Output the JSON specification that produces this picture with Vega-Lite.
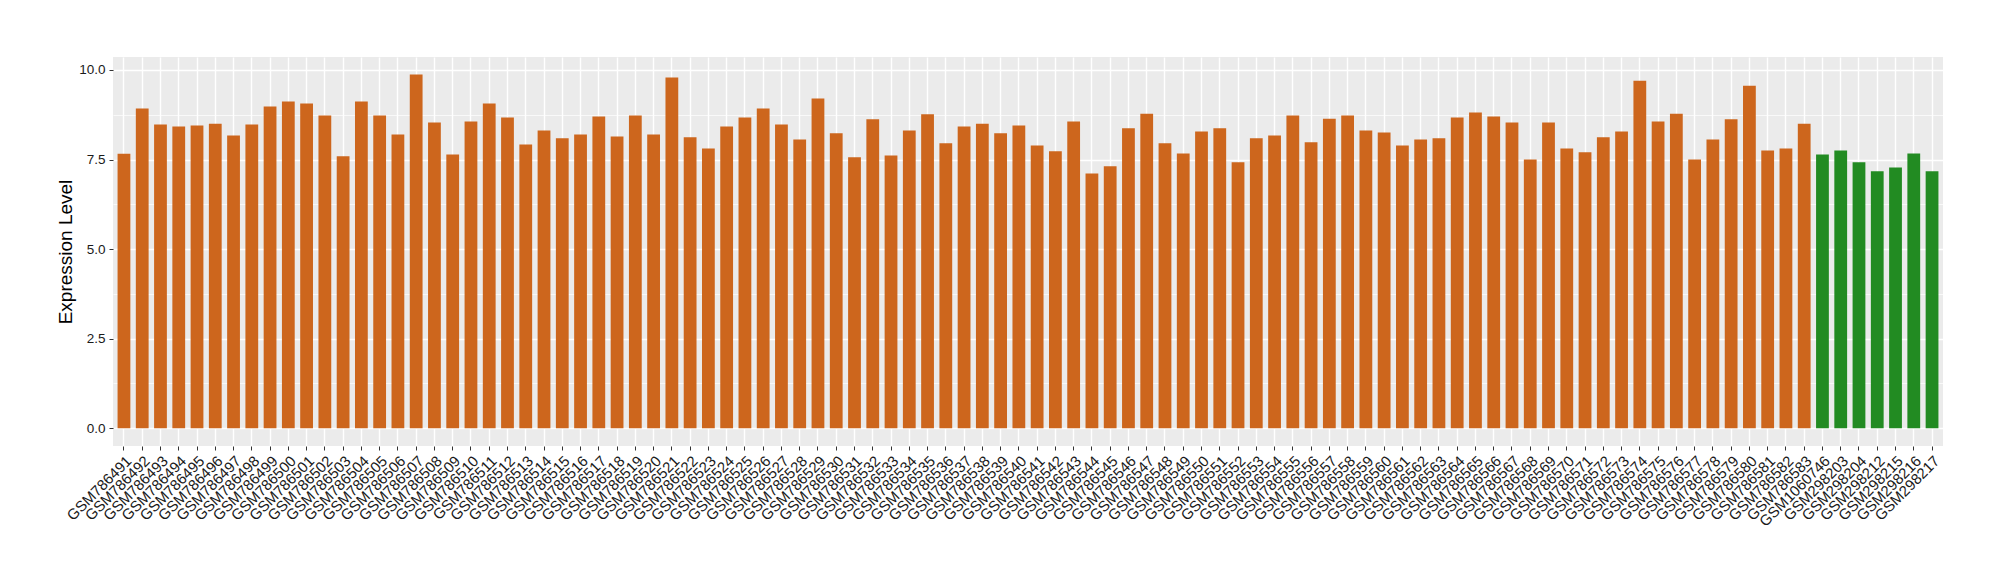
{
  "$schema": "https://vega.github.io/schema/vega-lite/v6.json",
  "width": 1830,
  "height": 389,
  "autosize": {"type": "none"},
  "padding": {"left": 113, "top": 57, "right": 57, "bottom": 134},
  "background": "white",
  "view": {"fill": "#EBEBEB", "stroke": null},
  "config": {
    "font": "Liberation Sans",
    "axis": {"domain": false}
  },
  "data": {
    "values": [
      {"sample": "GSM786491", "value": 7.66, "group": "GSE1"},
      {"sample": "GSM786492", "value": 8.92, "group": "GSE1"},
      {"sample": "GSM786493", "value": 8.48, "group": "GSE1"},
      {"sample": "GSM786494", "value": 8.42, "group": "GSE1"},
      {"sample": "GSM786495", "value": 8.45, "group": "GSE1"},
      {"sample": "GSM786496", "value": 8.50, "group": "GSE1"},
      {"sample": "GSM786497", "value": 8.17, "group": "GSE1"},
      {"sample": "GSM786498", "value": 8.48, "group": "GSE1"},
      {"sample": "GSM786499", "value": 8.98, "group": "GSE1"},
      {"sample": "GSM786500", "value": 9.12, "group": "GSE1"},
      {"sample": "GSM786501", "value": 9.06, "group": "GSE1"},
      {"sample": "GSM786502", "value": 8.73, "group": "GSE1"},
      {"sample": "GSM786503", "value": 7.59, "group": "GSE1"},
      {"sample": "GSM786504", "value": 9.12, "group": "GSE1"},
      {"sample": "GSM786505", "value": 8.73, "group": "GSE1"},
      {"sample": "GSM786506", "value": 8.20, "group": "GSE1"},
      {"sample": "GSM786507", "value": 9.87, "group": "GSE1"},
      {"sample": "GSM786508", "value": 8.53, "group": "GSE1"},
      {"sample": "GSM786509", "value": 7.64, "group": "GSE1"},
      {"sample": "GSM786510", "value": 8.56, "group": "GSE1"},
      {"sample": "GSM786511", "value": 9.06, "group": "GSE1"},
      {"sample": "GSM786512", "value": 8.67, "group": "GSE1"},
      {"sample": "GSM786513", "value": 7.92, "group": "GSE1"},
      {"sample": "GSM786514", "value": 8.31, "group": "GSE1"},
      {"sample": "GSM786515", "value": 8.09, "group": "GSE1"},
      {"sample": "GSM786516", "value": 8.20, "group": "GSE1"},
      {"sample": "GSM786517", "value": 8.70, "group": "GSE1"},
      {"sample": "GSM786518", "value": 8.14, "group": "GSE1"},
      {"sample": "GSM786519", "value": 8.73, "group": "GSE1"},
      {"sample": "GSM786520", "value": 8.20, "group": "GSE1"},
      {"sample": "GSM786521", "value": 9.79, "group": "GSE1"},
      {"sample": "GSM786522", "value": 8.12, "group": "GSE1"},
      {"sample": "GSM786523", "value": 7.81, "group": "GSE1"},
      {"sample": "GSM786524", "value": 8.42, "group": "GSE1"},
      {"sample": "GSM786525", "value": 8.67, "group": "GSE1"},
      {"sample": "GSM786526", "value": 8.92, "group": "GSE1"},
      {"sample": "GSM786527", "value": 8.48, "group": "GSE1"},
      {"sample": "GSM786528", "value": 8.06, "group": "GSE1"},
      {"sample": "GSM786529", "value": 9.20, "group": "GSE1"},
      {"sample": "GSM786530", "value": 8.23, "group": "GSE1"},
      {"sample": "GSM786531", "value": 7.56, "group": "GSE1"},
      {"sample": "GSM786532", "value": 8.62, "group": "GSE1"},
      {"sample": "GSM786533", "value": 7.61, "group": "GSE1"},
      {"sample": "GSM786534", "value": 8.31, "group": "GSE1"},
      {"sample": "GSM786535", "value": 8.76, "group": "GSE1"},
      {"sample": "GSM786536", "value": 7.95, "group": "GSE1"},
      {"sample": "GSM786537", "value": 8.42, "group": "GSE1"},
      {"sample": "GSM786538", "value": 8.50, "group": "GSE1"},
      {"sample": "GSM786539", "value": 8.23, "group": "GSE1"},
      {"sample": "GSM786540", "value": 8.45, "group": "GSE1"},
      {"sample": "GSM786541", "value": 7.89, "group": "GSE1"},
      {"sample": "GSM786542", "value": 7.73, "group": "GSE1"},
      {"sample": "GSM786543", "value": 8.56, "group": "GSE1"},
      {"sample": "GSM786544", "value": 7.11, "group": "GSE1"},
      {"sample": "GSM786545", "value": 7.31, "group": "GSE1"},
      {"sample": "GSM786546", "value": 8.37, "group": "GSE1"},
      {"sample": "GSM786547", "value": 8.78, "group": "GSE1"},
      {"sample": "GSM786548", "value": 7.95, "group": "GSE1"},
      {"sample": "GSM786549", "value": 7.67, "group": "GSE1"},
      {"sample": "GSM786550", "value": 8.28, "group": "GSE1"},
      {"sample": "GSM786551", "value": 8.37, "group": "GSE1"},
      {"sample": "GSM786552", "value": 7.42, "group": "GSE1"},
      {"sample": "GSM786553", "value": 8.09, "group": "GSE1"},
      {"sample": "GSM786554", "value": 8.17, "group": "GSE1"},
      {"sample": "GSM786555", "value": 8.73, "group": "GSE1"},
      {"sample": "GSM786556", "value": 7.98, "group": "GSE1"},
      {"sample": "GSM786557", "value": 8.64, "group": "GSE1"},
      {"sample": "GSM786558", "value": 8.73, "group": "GSE1"},
      {"sample": "GSM786559", "value": 8.31, "group": "GSE1"},
      {"sample": "GSM786560", "value": 8.25, "group": "GSE1"},
      {"sample": "GSM786561", "value": 7.89, "group": "GSE1"},
      {"sample": "GSM786562", "value": 8.06, "group": "GSE1"},
      {"sample": "GSM786563", "value": 8.09, "group": "GSE1"},
      {"sample": "GSM786564", "value": 8.67, "group": "GSE1"},
      {"sample": "GSM786565", "value": 8.81, "group": "GSE1"},
      {"sample": "GSM786566", "value": 8.70, "group": "GSE1"},
      {"sample": "GSM786567", "value": 8.53, "group": "GSE1"},
      {"sample": "GSM786568", "value": 7.50, "group": "GSE1"},
      {"sample": "GSM786569", "value": 8.53, "group": "GSE1"},
      {"sample": "GSM786570", "value": 7.81, "group": "GSE1"},
      {"sample": "GSM786571", "value": 7.70, "group": "GSE1"},
      {"sample": "GSM786572", "value": 8.12, "group": "GSE1"},
      {"sample": "GSM786573", "value": 8.28, "group": "GSE1"},
      {"sample": "GSM786574", "value": 9.70, "group": "GSE1"},
      {"sample": "GSM786575", "value": 8.56, "group": "GSE1"},
      {"sample": "GSM786576", "value": 8.78, "group": "GSE1"},
      {"sample": "GSM786577", "value": 7.50, "group": "GSE1"},
      {"sample": "GSM786578", "value": 8.06, "group": "GSE1"},
      {"sample": "GSM786579", "value": 8.62, "group": "GSE1"},
      {"sample": "GSM786580", "value": 9.56, "group": "GSE1"},
      {"sample": "GSM786581", "value": 7.75, "group": "GSE1"},
      {"sample": "GSM786582", "value": 7.81, "group": "GSE1"},
      {"sample": "GSM786583", "value": 8.50, "group": "GSE1"},
      {"sample": "GSM1060746", "value": 7.64, "group": "GSE2"},
      {"sample": "GSM298203", "value": 7.75, "group": "GSE2"},
      {"sample": "GSM298204", "value": 7.42, "group": "GSE2"},
      {"sample": "GSM298212", "value": 7.17, "group": "GSE2"},
      {"sample": "GSM298215", "value": 7.28, "group": "GSE2"},
      {"sample": "GSM298216", "value": 7.67, "group": "GSE2"},
      {"sample": "GSM298217", "value": 7.17, "group": "GSE2"}
    ]
  },
  "mark": {"type": "bar"},
  "encoding": {
    "x": {
      "field": "sample",
      "type": "nominal",
      "sort": null,
      "scale": {"paddingInner": 0.3, "paddingOuter": 0.25},
      "axis": {
        "title": null,
        "labelAngle": -45,
        "labelAlign": "right",
        "labelBaseline": "top",
        "labelFontSize": 15,
        "labelColor": "#1A1A1A",
        "labelPadding": 3,
        "labelOverlap": false,
        "labelBound": false,
        "labelLimit": 0,
        "tickSize": 4,
        "tickColor": "#333333",
        "tickWidth": 1,
        "bandPosition": 0.5,
        "grid": true,
        "gridColor": "#FFFFFF",
        "gridWidth": 1.4
      }
    },
    "y": {
      "field": "value",
      "type": "quantitative",
      "scale": {"domain": [-0.494, 10.36], "nice": false, "zero": false},
      "axis": {
        "title": "Expression Level",
        "titleFontSize": 19,
        "titleFontWeight": "normal",
        "titleColor": "#000000",
        "titleX": -42,
        "titleBaseline": "alphabetic",
        "values": [0, 1.25, 2.5, 3.75, 5, 6.25, 7.5, 8.75, 10],
        "labelExpr": "datum.value % 2.5 === 0 ? format(datum.value, '.1f') : ''",
        "labelFontSize": 13.5,
        "labelColor": "#1A1A1A",
        "labelPadding": 4,
        "tickSize": 4,
        "tickColor": "#333333",
        "tickOpacity": {"condition": {"test": "datum.value % 2.5 === 0", "value": 1}, "value": 0},
        "grid": true,
        "gridColor": "#FFFFFF",
        "gridWidth": {"condition": {"test": "datum.value % 2.5 === 0", "value": 1.4}, "value": 0.7}
      }
    },
    "y2": {"datum": 0},
    "color": {
      "field": "group",
      "type": "nominal",
      "scale": {"domain": ["GSE1", "GSE2"], "range": ["#CD661D", "#228B22"]},
      "legend": null
    }
  }
}
